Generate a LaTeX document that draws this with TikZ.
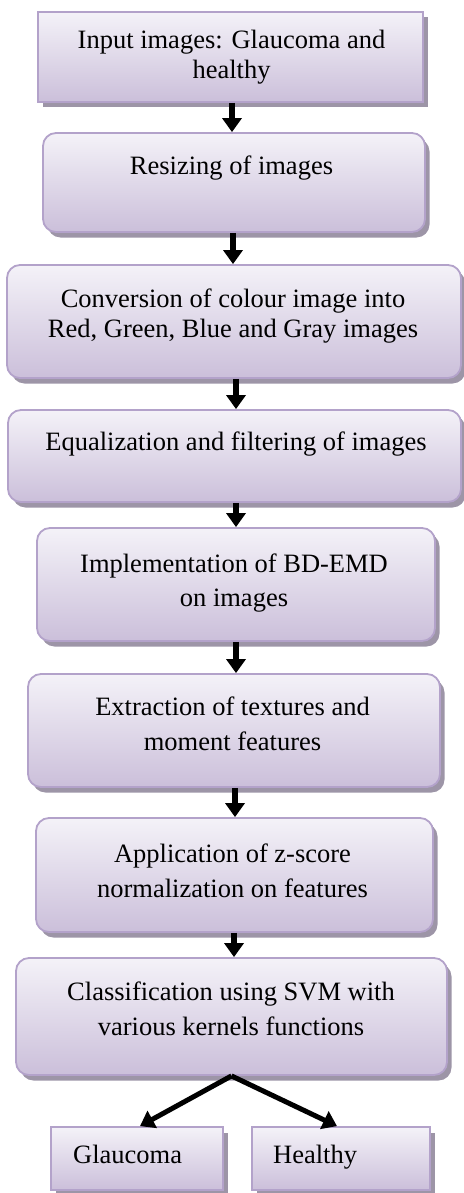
\documentclass[tikz,border=0pt]{standalone}
\usepackage{fontspec}
\setmainfont{Liberation Serif}
\usetikzlibrary{arrows.meta,shadows}
\definecolor{boxline}{HTML}{B3A2CA}
\definecolor{boxtop}{HTML}{F4F2F8}
\definecolor{boxbot}{HTML}{CBBFDA}
\definecolor{shadowgray}{HTML}{9D95A7}
\tikzset{
  stage/.style={draw=boxline, line width=1.8pt, top color=boxtop, bottom color=boxbot,
    inner sep=0pt,
    drop shadow={shadow xshift=4.5pt, shadow yshift=-5.5pt, fill=shadowgray, opacity=1}},
  roundstage/.style={stage, rounded corners=13pt},
  lbl/.style={font=\fontsize{26.5}{#1}\selectfont, align=center, inner sep=0pt},
  lbl/.default=31,
  flow/.style={line width=6pt, -{Triangle[width=19pt,length=14pt]}},
}
\begin{document}
\begin{tikzpicture}[x=1pt, y=-1pt]
  \useasboundingbox (0,0) rectangle (463,1193);

  % process stages
  \node[stage, minimum width=385pt, minimum height=90pt] (b1) at (230.5,57) {};
  \node[roundstage, minimum width=382pt, minimum height=99pt] (b2) at (234,182.5) {};
  \node[roundstage, minimum width=454pt, minimum height=113pt] (b3) at (234,321.5) {};
  \node[roundstage, minimum width=453pt, minimum height=92pt] (b4) at (234.5,456) {};
  \node[roundstage, minimum width=398pt, minimum height=113pt] (b5) at (236,584.5) {};
  \node[roundstage, minimum width=412pt, minimum height=113pt] (b6) at (234,730.5) {};
  \node[roundstage, minimum width=397pt, minimum height=114pt] (b7) at (234.5,875) {};
  \node[roundstage, minimum width=431pt, minimum height=117pt] (b8) at (231.5,1016.5) {};
  \node[stage, minimum width=172pt, minimum height=63pt] (b9) at (137,1158.5) {};
  \node[stage, minimum width=178pt, minimum height=63pt] (b10) at (341,1158.5) {};

  % stage texts
  \node[lbl=30] (t1) at (231.5,57.3) {\strut Input images: Glaucoma and\\\strut healthy};
  \node[lbl, anchor=base] (t2) at (231.5,175) {Resizing of images};
  \node[lbl=30] (t3) at (233,316) {\strut Conversion of colour image into\\\strut Red, Green, Blue and Gray images};
  \node[lbl, anchor=base] (t4) at (236,450) {Equalization and filtering of images};
  \node[lbl=34] (t5) at (234,582.2) {\strut Implementation of BD-EMD\\\strut on images};
  \node[lbl=35] (t6) at (232.5,725.5) {\strut Extraction of textures and\\\strut moment features};
  \node[lbl=35] (t7) at (232.5,872.5) {\strut Application of z-score\\\strut normalization on features};
  \node[lbl=35] (t8) at (231,1010.5) {\strut Classification using SVM with\\\strut various kernels functions};
  \node[lbl, anchor=base west] (t9) at (73,1163) {Glaucoma};
  \node[lbl, anchor=base west] (t10) at (273,1163) {Healthy};

  % connectors
  \draw[flow] (b1.south -| 232,0) -- (b2.north -| 232,0);
  \draw[flow] (b2.south -| 233,0) -- (b3.north -| 233,0);
  \draw[flow] (b3.south -| 236,0) -- (b4.north -| 236,0);
  \draw[flow] (b4.south -| 236,0) -- (b5.north -| 236,0);
  \draw[flow] (b5.south -| 236,0) -- (b6.north -| 236,0);
  \draw[flow] (b6.south -| 235,0) -- (b7.north -| 235,0);
  \draw[flow] (b7.south -| 234,0) -- (b8.north -| 234,0);
  \draw[flow, line width=5pt] (b8.south) -- (b9.north -| 140,0);
  \draw[flow, line width=5pt] (b8.south) -- (b10.north -| 337,0);
\end{tikzpicture}
\end{document}
